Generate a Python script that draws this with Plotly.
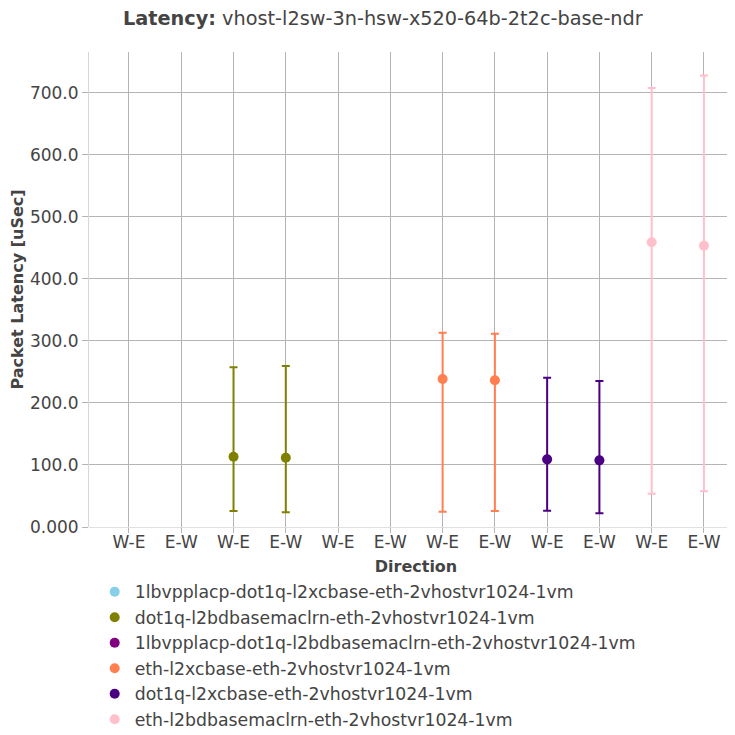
import plotly.graph_objects as go

directions = ["W-E", "E-W"] * 6
series_names = [
    "1lbvpplacp-dot1q-l2xcbase-eth-2vhostvr1024-1vm",
    "dot1q-l2bdbasemaclrn-eth-2vhostvr1024-1vm",
    "1lbvpplacp-dot1q-l2bdbasemaclrn-eth-2vhostvr1024-1vm",
    "eth-l2xcbase-eth-2vhostvr1024-1vm",
    "dot1q-l2xcbase-eth-2vhostvr1024-1vm",
    "eth-l2bdbasemaclrn-eth-2vhostvr1024-1vm",
]
series_colors = ["skyblue", "olive", "purple", "coral", "indigo", "pink"]

# average / max / min latency per series (W-E, E-W); None = no data
avg_lat = [[None, None], [113.4, 111.8], [None, None], [238.7, 236.6], [109.1, 107.5], [459.2, 453.7]]
max_lat = [[None, None], [257.5, 259.7], [None, None], [313.4, 311.8], [240.8, 235.5], [708.0, 728.0]]
min_lat = [[None, None], [25.8, 23.7], [None, None], [24.7, 25.8], [26.3, 22.0], [53.7, 57.6]]

FONT = "DejaVu Sans"
GRID = "rgb(180,180,180)"


def diff(a, b):
    return [None if (p is None or q is None) else p - q for p, q in zip(a, b)]


fig = go.Figure()
for i, name in enumerate(series_names):
    xs = [2 * i + k for k in range(len(avg_lat[i]))]
    fig.add_trace(go.Scatter(
        x=xs, y=avg_lat[i], name=name, mode="markers",
        marker=dict(color=series_colors[i], size=10),
        error_y=dict(type="data", symmetric=False,
                     array=diff(max_lat[i], avg_lat[i]),
                     arrayminus=diff(avg_lat[i], min_lat[i]),
                     color=series_colors[i], thickness=2, width=4),
        showlegend=True,
    ))

fig.update_layout(
    width=735, height=735,
    paper_bgcolor="white", plot_bgcolor="white",
    font=dict(family=FONT, size=17, color="#444"),
    title=dict(text="<b>Latency:</b> vhost-l2sw-3n-hsw-x520-64b-2t2c-base-ndr",
               x=0.510, xanchor="center", y=1 - 10 / 735, yanchor="middle",
               font=dict(size=19.3)),
    margin=dict(l=81, r=0, t=44, b=216, autoexpand=False),
    showlegend=True,
    legend=dict(orientation="v", x=0.0087, xanchor="left", y=-0.0989, yanchor="top",
                font=dict(size=17.3)),
    xaxis=dict(
        tickmode="array", tickvals=list(range(len(directions))), ticktext=directions,
        range=[-0.765, 11.747], showgrid=True, gridcolor=GRID, gridwidth=1,
        ticks="outside", ticklen=5, tickcolor=GRID, zeroline=False,
        showline=False, automargin=True, ticklabelstandoff=-5,
        title=dict(text="<b>Direction</b>", standoff=9, font=dict(size=16)),
    ),
    yaxis=dict(
        range=[0, 766], tickformat=".4g", dtick=100, tick0=0,
        showgrid=True, gridcolor=GRID, gridwidth=1,
        ticks="outside", ticklen=6, tickcolor=GRID,
        zeroline=True, zerolinecolor="rgb(225,225,225)", zerolinewidth=1,
        showline=True, linecolor="rgb(215,215,215)", linewidth=1,
        automargin=True,
        title=dict(text="<b>Packet Latency [uSec]</b>", standoff=6, font=dict(size=16)),
    ),
)

fig.write_html("out.html")
